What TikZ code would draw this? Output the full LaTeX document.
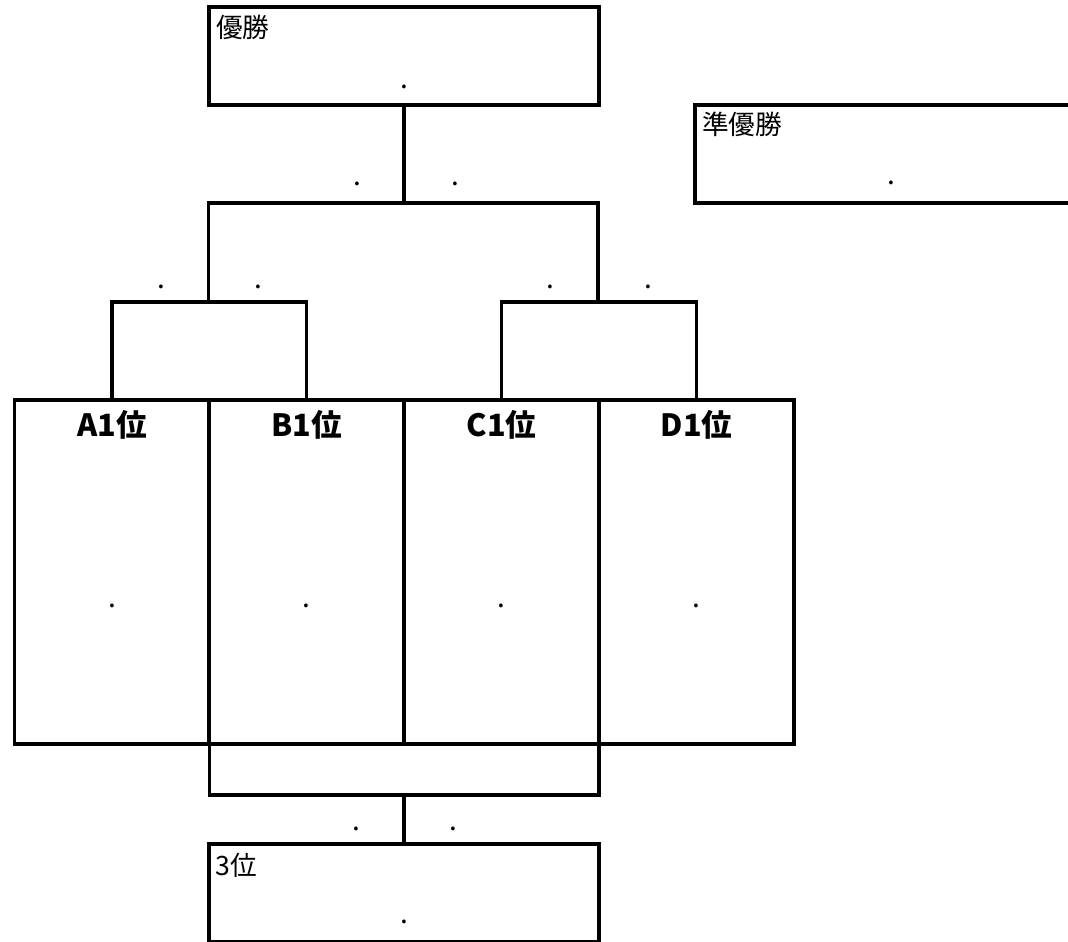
\documentclass[tikz,border=0pt]{standalone}
\usepackage{fontspec}
\setmainfont{Noto Sans CJK JP}
\usetikzlibrary{positioning}
\begin{document}
\begin{tikzpicture}[x=0.75pt,y=-0.75pt,
  box/.style={draw,line width=2.5pt,inner sep=0pt,outer sep=0pt,minimum width=292.5pt,minimum height=73.5pt},
  team/.style={draw,line width=2.5pt,inner sep=0pt,outer sep=0pt,minimum width=146.25pt,minimum height=258pt},
  title/.style={anchor=north west,inner sep=0pt,font=\fontsize{20}{24}\selectfont},
  teamname/.style={inner sep=0pt,font=\fontsize{23}{27}\selectfont\bfseries},
  dot/.style={inner sep=0pt,font=\fontsize{21}{24}\selectfont},
  line/.style={line width=2.5pt}]
\useasboundingbox (0,0) rectangle (1068,942);

\node[box] (win) at (404,56) {};
\node[box] (runner) at (890,154) {};
\node[box] (third) at (404,893) {};

\node[title] (wint) at ([shift={(7,8)}]win.north west) {優勝};
\node[title] (runnert) at ([shift={(7,7)}]runner.north west) {準優勝};
\node[title] (thirdt) at ([shift={(6,9)}]third.north west) {3位};

\node[dot] (wind) at (404,87) {.};
\node[dot] (runnerd) at (891,183) {.};
\node[dot] (thirdd) at (404,922) {.};

\foreach \t/\x in {A/112,B/306.5,C/501.5,D/696.5}{
  \node[team] (\t) at (\x,572) {};
  \node[teamname] (\t name) at (\x,425) {\t1位};
  \node[dot] (\t dot) at (\x,606) {.};
}

\coordinate (ab) at (208.5,302);
\coordinate (cd) at (598,302);
\coordinate (top) at (404,203);
\coordinate (low) at (404,795);

\draw[line] (A.north) |- (ab) -| (B.north);
\draw[line] (C.north) |- (cd) -| (D.north);
\draw[line] (ab) |- (top) -| (cd);
\draw[line] (top) -- (win.south);
\draw[line] (A.south east) |- (low) -| (C.south east);
\draw[line] (low) -- (third.north);

\node[dot] (d1) at (357,184) {.};
\node[dot] (d2) at (455,184) {.};
\node[dot] (d3) at (161,287) {.};
\node[dot] (d4) at (258,287) {.};
\node[dot] (d5) at (550,287) {.};
\node[dot] (d6) at (648,287) {.};
\node[dot] (d7) at (356,829) {.};
\node[dot] (d8) at (453,829) {.};
\end{tikzpicture}
\end{document}
